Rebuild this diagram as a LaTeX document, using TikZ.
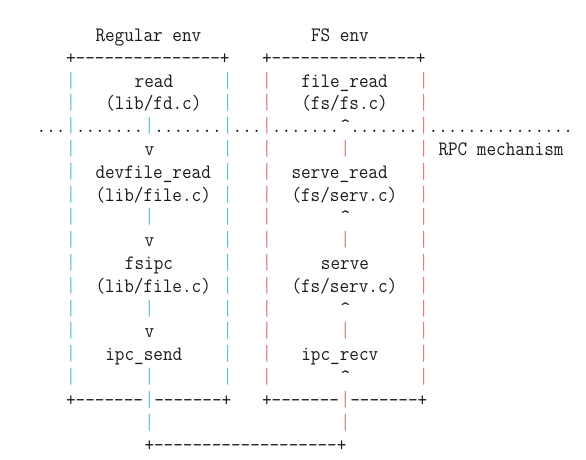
\documentclass[tikz,border=0pt]{standalone}
\usepackage{xcolor}
\usepackage{graphicx}
\definecolor{ink}{HTML}{1A1A1A}
\definecolor{lbarc}{HTML}{5EC2D6}
\definecolor{rbarc}{HTML}{DA7E7E}
\tikzset{
  asc/.style={anchor=base west, inner sep=0pt, outer sep=0pt,
    font=\fontsize{20.5}{22.8}\selectfont\ttfamily, text=ink},
  lb/.style={asc, text=lbarc},
  rb/.style={asc, text=rbarc},
}
\newcommand\seg[4][asc]{\node[#1] (n#2x#3) at ({36.7+9.8*#3},{41.4+22.8*#2}) {\scalebox{0.911}[1]{#4}};}
\newcommand\vbar{\raisebox{0pt}{\scalebox{1}[1.08]{|}}}
\newcommand\lsides[1]{\seg[lb]{#1}{3}{\vbar}\seg[lb]{#1}{19}{\vbar}}
\newcommand\rsides[1]{\seg[rb]{#1}{23}{\vbar}\seg[rb]{#1}{39}{\vbar}}
\newcommand\crt{\textasciicircum}
\begin{document}
\begin{tikzpicture}[x=1pt,y=-1pt]
\useasboundingbox (0,0) rectangle (586,460);
% row 0
\seg{0}{6}{Regular env}
\seg{0}{28}{FS env}
% row 1
\seg{1}{3}{+---------------+}
\seg{1}{23}{+---------------+}
% row 2
\lsides{2}\rsides{2}
\seg{2}{10}{read}
\seg{2}{27}{file\_read}
% row 3
\lsides{3}\rsides{3}
\seg{3}{7}{(lib/fd.c)}
\seg{3}{27}{(fs/fs.c)}
% row 4
\seg{4}{0}{...}
\lsides{4}\rsides{4}
\seg{4}{4}{.......}
\seg[lb]{4}{11}{\vbar}
\seg{4}{12}{.......}
\seg{4}{20}{...}
\seg{4}{24}{.......}
\seg{4}{31}{\crt}
\seg{4}{32}{.......}
\seg{4}{40}{...............}
% row 5
\lsides{5}\rsides{5}
\seg{5}{11}{v}
\seg[rb]{5}{31}{\vbar}
\seg{5}{41}{RPC mechanism}
% row 6
\lsides{6}\rsides{6}
\seg{6}{6}{devfile\_read}
\seg{6}{26}{serve\_read}
% row 7
\lsides{7}\rsides{7}
\seg{7}{6}{(lib/file.c)}
\seg{7}{26}{(fs/serv.c)}
% row 8
\lsides{8}\rsides{8}
\seg[lb]{8}{11}{\vbar}
\seg{8}{31}{\crt}
% row 9
\lsides{9}\rsides{9}
\seg{9}{11}{v}
\seg[rb]{9}{31}{\vbar}
% row 10
\lsides{10}\rsides{10}
\seg{10}{9}{fsipc}
\seg{10}{29}{serve}
% row 11
\lsides{11}\rsides{11}
\seg{11}{6}{(lib/file.c)}
\seg{11}{26}{(fs/serv.c)}
% row 12
\lsides{12}\rsides{12}
\seg[lb]{12}{11}{\vbar}
\seg{12}{31}{\crt}
% row 13
\lsides{13}\rsides{13}
\seg{13}{11}{v}
\seg[rb]{13}{31}{\vbar}
% row 14
\lsides{14}\rsides{14}
\seg{14}{7}{ipc\_send}
\seg{14}{27}{ipc\_recv}
% row 15
\lsides{15}\rsides{15}
\seg[lb]{15}{11}{\vbar}
\seg{15}{31}{\crt}
% row 16
\seg{16}{3}{+-------}
\seg[lb]{16}{11}{\vbar}
\seg{16}{12}{-------+}
\seg{16}{23}{+-------}
\seg[rb]{16}{31}{\vbar}
\seg{16}{32}{-------+}
% row 17
\seg[lb]{17}{11}{\vbar}
\seg[rb]{17}{31}{\vbar}
% row 18
\seg{18}{11}{+-------------------+}
\end{tikzpicture}
\end{document}
